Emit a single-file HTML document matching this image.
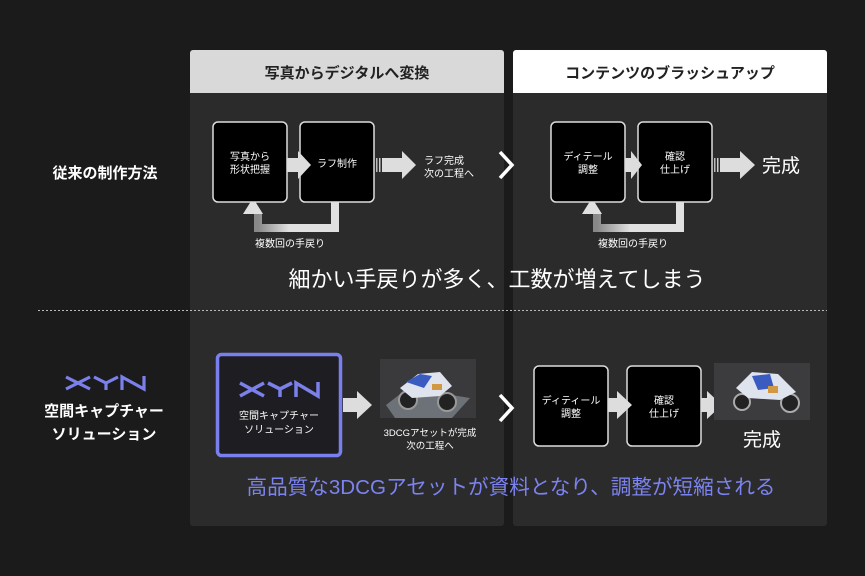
<!DOCTYPE html>
<html><head><meta charset="utf-8"><style>
html,body{margin:0;padding:0;background:#1b1b1b;}
svg{display:block;font-family:"Liberation Sans","Noto Sans CJK JP",sans-serif;}
</style></head><body>
<svg width="865" height="576" viewBox="0 0 865 576" xmlns="http://www.w3.org/2000/svg">
<defs>
<linearGradient id="g2" x1="0" y1="0" x2="1" y2="0"><stop offset="0" stop-color="#888"/><stop offset="0.4" stop-color="#e0e0e0"/></linearGradient>
</defs>
<rect width="865" height="576" fill="#1b1b1b"/>
<rect x="190" y="50" width="314" height="476" rx="3" fill="#2b2b2b"/>
<rect x="190" y="50" width="314" height="43" rx="3" fill="#d9d9d9"/>
<rect x="190" y="85" width="314" height="8" fill="#d9d9d9"/>
<rect x="513" y="50" width="314" height="476" rx="3" fill="#2b2b2b"/>
<rect x="513" y="50" width="314" height="43" rx="3" fill="#ffffff"/>
<rect x="513" y="85" width="314" height="8" fill="#ffffff"/>
<text x="347" y="78" text-anchor="middle" font-size="15" font-weight="bold" fill="#222">写真からデジタルへ変換</text>
<text x="670" y="78" text-anchor="middle" font-size="15" font-weight="bold" fill="#222">コンテンツのブラッシュアップ</text>

<text x="105" y="178" text-anchor="middle" font-size="15" font-weight="bold" fill="#fff">従来の制作方法</text>
<g stroke="#7b80ea" stroke-width="3.2" fill="none" stroke-linecap="butt">
<path d="M66 377 L90 389 M66 389 L90 377"/>
<path d="M94 377 L106 383 L118 377 M106 383 L106 390"/>
<path d="M122 390 L122 377 L144 389 L144 376"/>
</g>
<text x="104" y="416" text-anchor="middle" font-size="15" font-weight="bold" fill="#fff">空間キャプチャー</text>
<text x="104" y="439" text-anchor="middle" font-size="15" font-weight="bold" fill="#fff">ソリューション</text>

<line x1="38" y1="310.5" x2="827" y2="310.5" stroke="#bbb" stroke-width="1" stroke-dasharray="2,2"/>

<path d="M335 202 V228 H258 V214" fill="none" stroke="url(#g2)" stroke-width="8"/>
<polygon points="243,214 253,198 263,214" fill="#e0e0e0"/>
<rect x="213" y="122" width="74" height="80" rx="5" fill="#000" stroke="#ddd" stroke-width="1.5"/>
<rect x="300" y="122" width="74" height="80" rx="5" fill="#000" stroke="#ddd" stroke-width="1.5"/>
<text x="250" y="160" text-anchor="middle" font-size="10" fill="#fff">写真から</text>
<text x="250" y="173" text-anchor="middle" font-size="10" fill="#fff">形状把握</text>
<text x="337" y="167" text-anchor="middle" font-size="10" fill="#fff">ラフ制作</text>
<polygon points="287,158 298,158 298,151 311,165 298,179 298,172 287,172" fill="#ddd"/>
<rect x="376" y="158" width="1.5" height="14" fill="#bbb"/><rect x="379" y="158" width="1.5" height="14" fill="#ccc"/>
<polygon points="382,158 402,158 402,151 416,165 402,179 402,172 382,172" fill="#ddd"/>
<text x="424" y="164" font-size="10" fill="#fff">ラフ完成</text>
<text x="424" y="177" font-size="10" fill="#fff">次の工程へ</text>
<text x="290" y="247" text-anchor="middle" font-size="10" fill="#fff">複数回の手戻り</text>
<path d="M500 152 L512 165 L500 178" fill="none" stroke="#fff" stroke-width="3.5"/>

<path d="M680 202 V228 H597 V214" fill="none" stroke="url(#g2)" stroke-width="8"/>
<polygon points="582,214 592,198 602,214" fill="#e0e0e0"/>
<rect x="551" y="122" width="74" height="80" rx="5" fill="#000" stroke="#ddd" stroke-width="1.5"/>
<rect x="638" y="122" width="74" height="80" rx="5" fill="#000" stroke="#ddd" stroke-width="1.5"/>
<text x="588" y="160" text-anchor="middle" font-size="10" fill="#fff">ディテール</text>
<text x="588" y="173" text-anchor="middle" font-size="10" fill="#fff">調整</text>
<text x="675" y="160" text-anchor="middle" font-size="10" fill="#fff">確認</text>
<text x="675" y="173" text-anchor="middle" font-size="10" fill="#fff">仕上げ</text>
<polygon points="625,158 631,158 631,151 642,165 631,179 631,172 625,172" fill="#ddd"/>
<rect x="714" y="158" width="1.5" height="14" fill="#bbb"/><rect x="717" y="158" width="1.5" height="14" fill="#ccc"/>
<polygon points="720,158 740,158 740,151 755,165 740,179 740,172 720,172" fill="#ddd"/>
<text x="762" y="172" font-size="19" fill="#fff">完成</text>
<text x="633" y="247" text-anchor="middle" font-size="10" fill="#fff">複数回の手戻り</text>

<text x="497" y="287" text-anchor="middle" font-size="22" fill="#fff">細かい手戻りが多く、工数が増えてしまう</text>

<rect x="217.5" y="354.5" width="123" height="101" rx="4" fill="#1e1e22" stroke="#7a7fee" stroke-width="3.5"/>
<g stroke="#7b80ea" stroke-width="3.5" fill="none">
<path d="M240 383 L264 396 M240 396 L264 383"/>
<path d="M268 383 L280 389 L292 383 M280 389 L280 397"/>
<path d="M296 397 L296 383 L318 396 L318 382"/>
</g>
<text x="279" y="419" text-anchor="middle" font-size="10" fill="#fff">空間キャプチャー</text>
<text x="279" y="433" text-anchor="middle" font-size="10" fill="#fff">ソリューション</text>
<polygon points="343,398 357,398 357,391 372,405 357,419 357,412 343,412" fill="#ddd"/>
<g>
<rect x="380" y="359" width="96" height="59" fill="#3a3a3c"/>
<polygon points="386,405 408,388 470,398 452,418 395,418" fill="#6d7278"/>
<ellipse cx="408" cy="400" rx="9" ry="9" fill="#222" stroke="#999" stroke-width="2"/>
<ellipse cx="447" cy="402" rx="9" ry="9" fill="#222" stroke="#999" stroke-width="2"/>
<path d="M400 388 L418 374 L440 372 L452 386 L440 396 L412 398 Z" fill="#dfe3ee"/>
<path d="M406 382 L420 374 L432 376 L424 388 Z" fill="#3a5cc0"/>
<rect x="432" y="384" width="10" height="6" fill="#d09840"/>
</g>
<text x="430" y="436" text-anchor="middle" font-size="9.5" fill="#fff">3DCGアセットが完成</text>
<text x="430" y="449" text-anchor="middle" font-size="9.5" fill="#fff">次の工程へ</text>
<path d="M500 395 L512 408 L500 421" fill="none" stroke="#fff" stroke-width="3.5"/>

<rect x="534" y="366" width="74" height="80" rx="5" fill="#000" stroke="#ddd" stroke-width="1.5"/>
<rect x="627" y="366" width="74" height="80" rx="5" fill="#000" stroke="#ddd" stroke-width="1.5"/>
<text x="571" y="404" text-anchor="middle" font-size="10" fill="#fff">ディティール</text>
<text x="571" y="417" text-anchor="middle" font-size="10" fill="#fff">調整</text>
<text x="664" y="404" text-anchor="middle" font-size="10" fill="#fff">確認</text>
<text x="664" y="417" text-anchor="middle" font-size="10" fill="#fff">仕上げ</text>
<polygon points="608,398 617,398 617,391 632,405 617,419 617,412 608,412" fill="#ddd"/>
<polygon points="701,398 707,398 707,391 722,405 707,419 707,412 701,412" fill="#ddd"/>
<g>
<rect x="714" y="363" width="96" height="57" fill="#3c3c3e"/>
<ellipse cx="742" cy="402" rx="8" ry="8" fill="#222" stroke="#aaa" stroke-width="2"/>
<ellipse cx="790" cy="403" rx="9" ry="9" fill="#222" stroke="#aaa" stroke-width="2"/>
<path d="M736 388 L752 372 L778 374 L796 392 L780 400 L748 398 Z" fill="#dfe3ee"/>
<path d="M752 376 L770 374 L774 388 L758 390 Z" fill="#3a5cc0"/>
<rect x="768" y="386" width="10" height="7" fill="#d09840"/>
</g>
<text x="762" y="446" text-anchor="middle" font-size="19" fill="#fff">完成</text>

<text x="511" y="494" text-anchor="middle" font-size="20.6" fill="#7b83f0">高品質な3DCGアセットが資料となり、調整が短縮される</text>
</svg>
</body></html>
